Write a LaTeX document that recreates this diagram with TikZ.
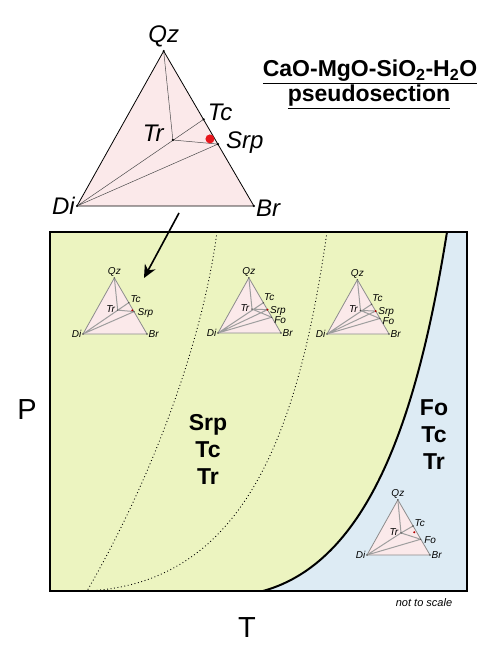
\documentclass[tikz,border=0pt]{standalone}
\usepackage{fontspec}
\setmainfont{Liberation Sans}
\setsansfont{Liberation Sans}
\usetikzlibrary{arrows,arrows.meta}

\definecolor{fieldgreen}{RGB}{236,244,192}
\definecolor{fieldblue}{RGB}{221,235,244}
\definecolor{ternpink}{RGB}{251,233,234}
\definecolor{dotred}{RGB}{232,22,28}

\tikzset{
    %Define standard arrow tip
    >=stealth',
    %Define styles for the ternary plots
    bigtern/.style={
           fill=ternpink,
           draw=black, line width=0.8pt,
           line join=round},
    bigtie/.style={
           draw=black!70, line width=0.5pt},
    biglab/.style={
           font=\fontsize{24}{24}\selectfont\itshape,
           inner sep=1pt},
    smalltern/.style={
           fill=ternpink,
           draw=black!45, line width=0.8pt,
           line join=round},
    smalltie/.style={
           draw=black!38, line width=1pt},
    smalllab/.style={
           font=\fontsize{10}{10}\selectfont\itshape,
           inner sep=0.5pt},
    vertex/.style={
           circle, fill=black,
           inner sep=0pt, minimum size=2.4pt},
    smallvertex/.style={
           circle, fill=black!70,
           inner sep=0pt, minimum size=1.6pt},
    reddot/.style={
           circle, fill=dotred,
           inner sep=0pt, minimum size=9pt},
    smallred/.style={
           circle, fill=red!70!black,
           inner sep=0pt, minimum size=2.2pt},
    % Define styles for the P-T field
    reaction/.style={
           draw=black, line width=2pt},
    isograd/.style={
           draw=black, line width=0.9pt,
           dash pattern=on 0.9pt off 2.6pt},
    field/.style={
           font=\fontsize{23}{27}\selectfont\bfseries,
           align=center},
    axislab/.style={
           font=\fontsize{29}{29}\selectfont},
    titlelab/.style={
           font=\fontsize{23}{23}\selectfont\bfseries},
    % Define arrow style
    pil/.style={
           -{Stealth[length=13pt,width=12pt]},
           line width=1.6pt}
}

% corners of a unit ternary diagram
\newcommand{\ternframe}[1]{%
  \coordinate (Di) at (0,0);
  \coordinate (Br) at (1,0);
  \coordinate (Qz) at (0.49,-0.876);
  \filldraw[#1] (Di) -- (Br) -- (Qz) -- cycle;}

\begin{document}
\begin{tikzpicture}[x=1pt,y=-1pt]
\useasboundingbox (0,0) rectangle (501,650);

% P-T field
\coordinate (nw) at (50,232);
\coordinate (se) at (467,591);
\coordinate (reac-top) at (447,232);
\coordinate (reac-bot) at (263,591);
\coordinate (iso1-top) at (217,232);
\coordinate (iso1-bot) at (87,591);
\coordinate (iso2-top) at (327,232);
\coordinate (iso2-bot) at (85,591);
\fill[fieldgreen] (nw) rectangle (se);
\fill[fieldblue] (reac-top) .. controls (420,400) and (375,560) .. (reac-bot)
    -- (se) -- (se |- nw) -- cycle;
\draw[isograd] (iso1-top) .. controls (200,360) and (140,500) .. (iso1-bot);
\draw[isograd] (iso2-top) .. controls (300,420) and (250,585) .. (iso2-bot);
\draw[reaction] (reac-top) .. controls (420,400) and (375,560) .. (reac-bot);
\draw[line width=2pt] (nw) rectangle (se);

\node[field] (srp-field) at (208,449) {Srp\\Tc\\Tr};
\node[field] (fo-field) at (434,435) {Fo\\Tc\\Tr};
\node[axislab] (P) at (27,410) {P};
\node[axislab] (T) at (247,628) {T};
\node[font=\fontsize{11}{11}\selectfont\itshape] (scale) at (424,603) {not to scale};

% title
\node[titlelab, anchor=base] (title1) at (370,77)
    {\underline{CaO-MgO-SiO\textsubscript{2}-H\textsubscript{2}O}};
\node[titlelab, anchor=base] (title2) at (369,102) {\underline{pseudosection}};

% big ternary
\begin{scope}[shift={(77,206)}, scale=177, name prefix=big-]
  \ternframe{bigtern}
  \coordinate (Tr) at (0.542,-0.373);
  \coordinate (Tc) at (0.716,-0.490);
  \coordinate (Srp) at (0.797,-0.350);
  \draw[bigtie] (Qz) -- (Tr) (Di) -- (Tc) (Tr) -- (Srp) (Di) -- (Srp);
  \foreach \p in {Di,Br,Qz,Tr,Tc,Srp} \node[vertex] (\p-pt) at (\p) {};
  \node[reddot] (mark) at (0.751,-0.379) {};
  \node[biglab, above=3pt] (Qz-lab) at (Qz) {Qz};
  \node[biglab, left=1pt] (Di-lab) at (Di) {Di};
  \node[biglab, right=1pt, yshift=-2pt] (Br-lab) at (Br) {Br};
  \node[biglab, anchor=west, xshift=3pt, yshift=7pt] (Tc-lab) at (Tc) {Tc};
  \node[biglab, anchor=east, xshift=-8pt, yshift=7pt] (Tr-lab) at (Tr) {Tr};
  \node[biglab, anchor=west, xshift=7pt, yshift=1pt] (Srp-lab) at (Srp) {Srp};
\end{scope}
\coordinate (arrow-start) at (179,213);
\coordinate (arrow-end) at (144,278);
\draw[pil] (arrow-start) -- (arrow-end);

% small ternary, Srp field
\begin{scope}[shift={(83,334)}, scale=64, name prefix=t1-]
  \ternframe{smalltern}
  \coordinate (Tr) at (0.542,-0.373);
  \coordinate (Tc) at (0.716,-0.490);
  \coordinate (Srp) at (0.797,-0.350);
  \draw[smalltie] (Qz) -- (Tr) (Di) -- (Tc) (Tr) -- (Srp) (Di) -- (Srp);
  \foreach \p in {Di,Br,Qz,Tr,Tc,Srp} \node[smallvertex] (\p-pt) at (\p) {};
  \node[smallred] (mark) at (0.77,-0.37) {};
  \node[smalllab, above=1pt] (Qz-lab) at (Qz) {Qz};
  \node[smalllab, left=1pt] (Di-lab) at (Di) {Di};
  \node[smalllab, right=1pt] (Br-lab) at (Br) {Br};
  \node[smalllab, anchor=west, xshift=1pt, yshift=4pt] (Tc-lab) at (Tc) {Tc};
  \node[smalllab, anchor=east, xshift=-2pt, yshift=1pt] (Tr-lab) at (Tr) {Tr};
  \node[smalllab, anchor=west, xshift=3pt, yshift=-1pt] (Srp-lab) at (Srp) {Srp};
\end{scope}

% small ternaries with Fo
\foreach \dx/\dy/\sc/\nm in {218/333/63/t2, 327/334/62/t3}{
\begin{scope}[shift={(\dx,\dy)}, scale=\sc, name prefix=\nm-]
  \ternframe{smalltern}
  \coordinate (Tr) at (0.54,-0.38);
  \coordinate (Tc) at (0.72,-0.48);
  \coordinate (Srp) at (0.785,-0.37);
  \coordinate (Fo) at (0.852,-0.25);
  \draw[smalltie] (Qz) -- (Tr) (Di) -- (Tc) (Tr) -- (Srp) (Tr) -- (Fo)
      (Di) -- (Srp) (Di) -- (Fo);
  \foreach \p in {Di,Br,Qz,Tr,Tc,Srp,Fo} \node[smallvertex] (\p-pt) at (\p) {};
  \node[smallred] (mark) at (Srp) {};
  \node[smalllab, above=1pt] (Qz-lab) at (Qz) {Qz};
  \node[smalllab, left=1pt] (Di-lab) at (Di) {Di};
  \node[smalllab, right=1pt] (Br-lab) at (Br) {Br};
  \node[smalllab, anchor=west, xshift=0pt, yshift=6pt] (Tc-lab) at (Tc) {Tc};
  \node[smalllab, anchor=west, xshift=2pt, yshift=-1pt] (Srp-lab) at (Srp) {Srp};
  \node[smalllab, anchor=east, xshift=-2pt, yshift=1pt] (Tr-lab) at (Tr) {Tr};
  \node[smalllab, anchor=west, xshift=2pt, yshift=-3pt] (Fo-lab) at (Fo) {Fo};
\end{scope}}

% small ternary, Fo field
\begin{scope}[shift={(367,555)}, scale=63, name prefix=t4-]
  \ternframe{smalltern}
  \coordinate (Tr) at (0.54,-0.35);
  \coordinate (Tc) at (0.73,-0.46);
  \coordinate (Fo) at (0.852,-0.25);
  \draw[smalltie] (Qz) -- (Tr) (Di) -- (Tr) -- (Tc) (Tr) -- (Fo) (Di) -- (Fo);
  \foreach \p in {Di,Br,Qz,Tr,Tc,Fo} \node[smallvertex] (\p-pt) at (\p) {};
  \node[smallred] (mark) at (0.75,-0.36) {};
  \node[smalllab, above=1pt] (Qz-lab) at (Qz) {Qz};
  \node[smalllab, left=1pt] (Di-lab) at (Di) {Di};
  \node[smalllab, right=1pt] (Br-lab) at (Br) {Br};
  \node[smalllab, anchor=west, xshift=1pt, yshift=3pt] (Tc-lab) at (Tc) {Tc};
  \node[smalllab, anchor=east, xshift=-2pt, yshift=1pt] (Tr-lab) at (Tr) {Tr};
  \node[smalllab, anchor=west, xshift=3pt, yshift=-1pt] (Fo-lab) at (Fo) {Fo};
\end{scope}
\end{tikzpicture}
\end{document}
